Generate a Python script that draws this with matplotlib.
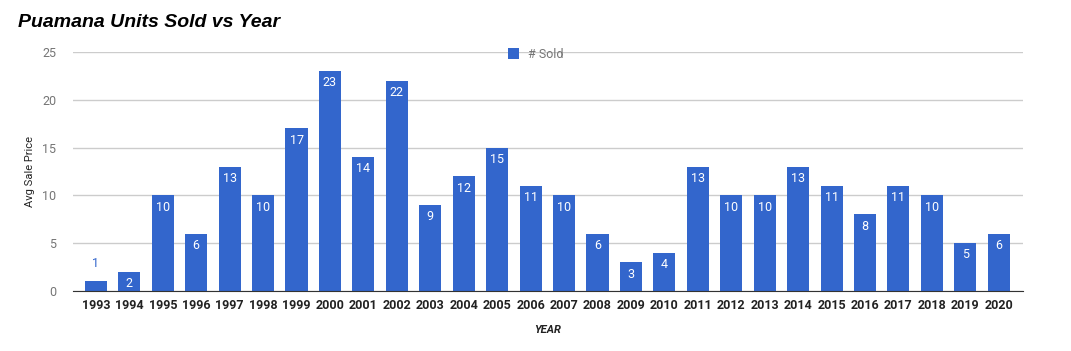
import matplotlib
matplotlib.use("Agg")
import matplotlib.pyplot as plt
import numpy as np

years = [str(y) for y in range(1993, 2021)]
sold = [1, 2, 10, 6, 13, 10, 17, 23, 14, 22, 9, 12, 15, 11, 10, 6,
        3, 4, 13, 10, 10, 13, 11, 8, 11, 10, 5, 6]

blue = '#3366cc'
plt.rcParams['font.family'] = ['Roboto', 'DejaVu Sans']

fig = plt.figure(figsize=(10.71, 3.51), dpi=100)
ax = fig.add_axes([0.068, 0.171, 0.887, 0.681])

x = np.arange(len(years))
ax.bar(x, sold, width=0.66, color=blue, zorder=3, label='# Sold')

for xi, v in zip(x, sold):
    if v >= 2:
        ax.text(xi, v - 0.55, str(v), ha='center', va='top', color='white', fontsize=9, zorder=4)
    else:
        ax.text(xi, v + 1.2, str(v), ha='center', va='bottom', color=blue, fontsize=9, zorder=4)

ax.set_xlim(-0.69, len(years) - 0.28)
ax.set_ylim(0, 25)
ax.set_yticks([0, 5, 10, 15, 20, 25])
ax.set_xticks(x)
ax.set_xticklabels(years, fontweight='bold', color='#222222', fontsize=9)
ax.tick_params(axis='y', colors='#757575', labelsize=9, length=0, pad=12)
ax.tick_params(axis='x', length=0, pad=6)
ax.grid(axis='y', color='#cccccc', linewidth=1, zorder=0)
for s in ['top', 'right', 'left']:
    ax.spines[s].set_visible(False)
ax.spines['bottom'].set_color('#333333')
ax.spines['bottom'].set_zorder(5)

ax.set_ylabel('Avg Sale Price', fontsize=8, color='#222222', labelpad=5)
ax.set_xlabel('YEAR', fontsize=8, fontweight='bold', fontstyle='italic', color='#222222', labelpad=9)

ax.legend(loc='upper center', bbox_to_anchor=(0.487, 1.065), frameon=False, fontsize=9,
          labelcolor='#757575', handlelength=0.9, handleheight=0.9, handletextpad=0.7)

fig.text(0.017, 0.935, 'Puamana Units Sold vs Year', fontsize=14, fontweight='bold',
         fontstyle='italic', family='Liberation Sans', ha='left', va='center')

fig.savefig('out.png', dpi=100)
